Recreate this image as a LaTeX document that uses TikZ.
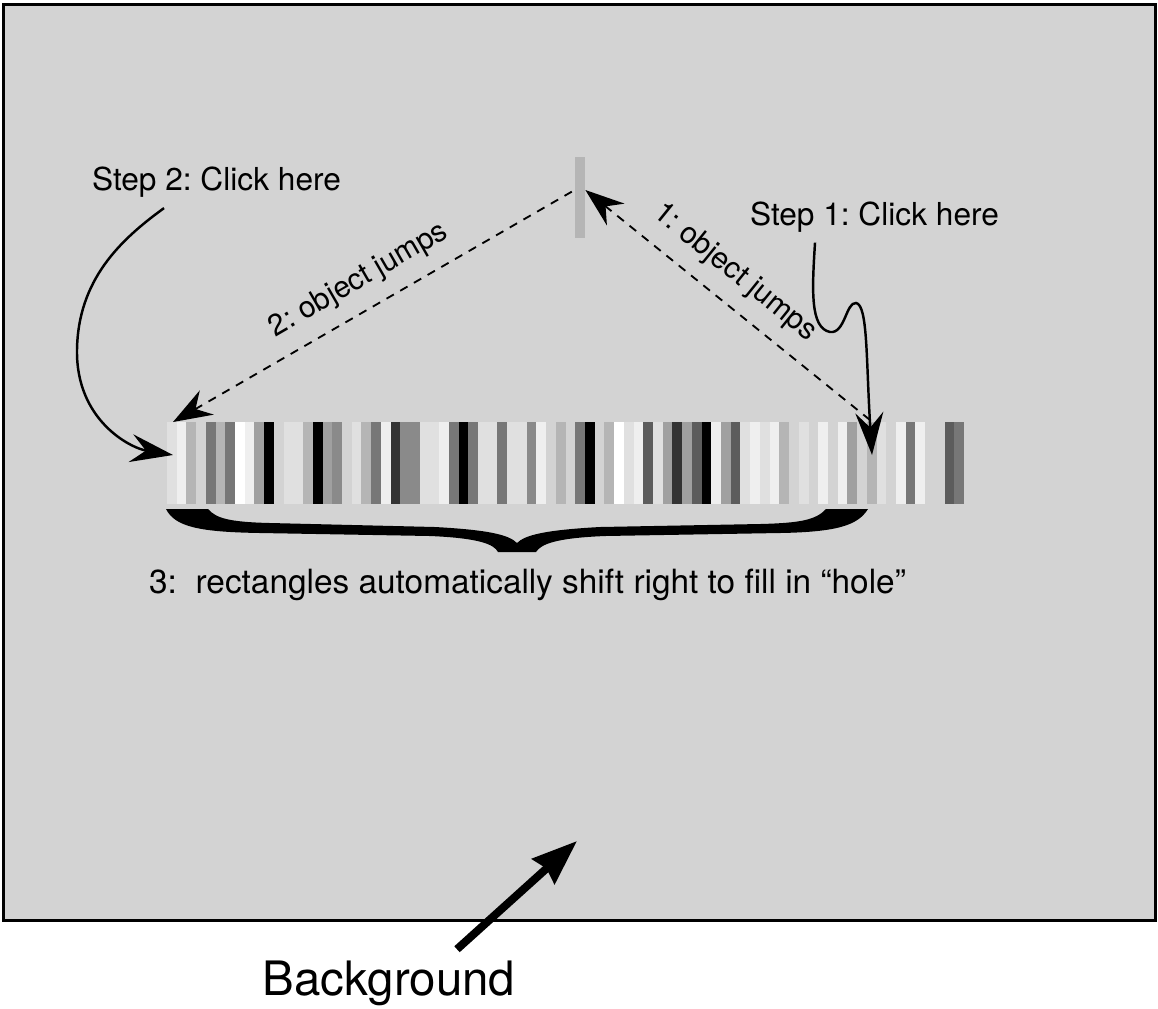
\documentclass[tikz,border=0pt]{standalone}
\usepackage{fontspec}
\setmainfont{TeX Gyre Heros}
\frenchspacing
\usetikzlibrary{arrows.meta,positioning}

\definecolor{bggray}{HTML}{D3D3D3}
\definecolor{markgray}{HTML}{B5B5B5}

\tikzset{
  frame/.style={draw=black, line width=0.06cm, fill=bggray},
  steplabel/.style={font=\fontsize{18}{21}\selectfont, anchor=base},
  jumplabel/.style={font=\fontsize{17}{20}\selectfont, sloped, above=5pt},
  jump/.style={line width=1.05pt, dash pattern=on 4.8pt off 4.2pt,
    >={Stealth[length=0.78cm, width=0.56cm, inset=0.26cm]}},
  click/.style={line width=1.4pt, -{Stealth[length=0.85cm, width=0.56cm, inset=0.3cm]}},
  bgarrow/.style={line width=0.16cm, -{Stealth[length=0.9cm, width=0.66cm, inset=0.08cm]}},
}

\begin{document}
\begin{tikzpicture}[x=0.02cm, y=-0.02cm]
    % ==== Parameters ====
    \def\STRIPX{167} \def\STRIPW{9.72}   % left edge and width of one rectangle
    \def\STRIPY{422} \def\STRIPH{82}     % top edge and height of the row

    % Page and background window
    \fill[white] (0,0) rectangle (1158,1008);
    \useasboundingbox (0,0) rectangle (1158,1008);
    \draw[frame] (3.5,4.5) rectangle (1155.5,920.5);

    % Row of rectangles, grey levels from left to right
    \node[inner sep=0, minimum width=15.94cm, minimum height=1.64cm] (strip) at (565.5,463) {};
    \foreach \g [count=\i from 0] in {224,239,181,211,119,181,119,255,239,160,0,211,224,224,181,0,
        160,138,211,224,181,119,239,51,138,138,224,224,239,119,0,119,224,224,119,224,224,138,239,211,
        181,211,119,0,211,181,255,224,239,92,224,160,51,160,92,0,239,160,92,224,239,224,239,181,211,
        224,211,239,211,239,160,211,181,224,211,239,119,239,211,211,92,119}{
        \fill[fill={rgb,255:red,\g;green,\g;blue,\g}] ({\STRIPX+\i*\STRIPW},\STRIPY) rectangle ++(\STRIPW+0.3,\STRIPH);
      }

    % Moving object and its two jumps
    \node[fill=markgray, inner sep=0, minimum width=0.2cm, minimum height=1.62cm] (mark) at (580,197.5) {};
    \coordinate (drop1) at (870,420);
    \coordinate (drop2) at (173,422);
    \draw[jump,<-] ([yshift=0.15cm]mark.east) -- (drop1) node[jumplabel, pos=0.46] (jump1) {1: object jumps};
    \draw[jump,<-] (drop2) -- ([yshift=0.15cm]mark.west) node[jumplabel, pos=0.5] (jump2) {2: object jumps};

    % Clicks
    \node[steplabel] (step1) at (874.5,225) {Step 1: Click here};
    \node[steplabel] (step2) at (216.5,190) {Step 2: Click here};
    \coordinate (hit1) at (872,455);
    \coordinate (hit2) at (173,455);
    \draw[click] ([xshift=-1.19cm,yshift=-0.09cm]step1.south) .. controls (812,290) and (810,328) .. (830,332)
        .. controls (845,334) and (846,302) .. (856,303) .. controls (868,305) and (866,360) .. (hit1);
    \draw[click] ([xshift=-1.05cm,yshift=-0.1cm]step2.south) .. controls (120,240) and (78,280) .. (77,350)
        .. controls (76,420) and (130,448) .. (hit2);

    % Brace and note
    \fill (166,509) .. controls (175,527) and (200,532) .. (260,533) -- (430,536)
        .. controls (478,538) and (494,544) .. (498,552) -- (536,552)
        .. controls (541,544) and (556,538) .. (605,536) -- (780,533)
        .. controls (838,532) and (858,525) .. (868,509) -- (826,509)
        .. controls (816,520) and (800,523) .. (760,524) -- (600,527)
        .. controls (545,530) and (525,535) .. (517,543)
        .. controls (509,535) and (490,530) .. (435,527) -- (270,523)
        .. controls (228,522) and (216,518) .. (208,509) -- cycle;
    \node[anchor=base, font=\fontsize{19}{22}\selectfont] (note) at (527.5,593)
        {3:\hspace{0.56em}rectangles automatically shift right to fill in “hole”};

    % Background label
    \node[anchor=base, font=\fontsize{27}{32}\selectfont] (bgtext) at (389,995) {Background};
    \coordinate (bgpoint) at (577,841);
    \draw[bgarrow] ([xshift=1.36cm,yshift=0.1cm]bgtext.north) -- (bgpoint);
\end{tikzpicture}
\end{document}
